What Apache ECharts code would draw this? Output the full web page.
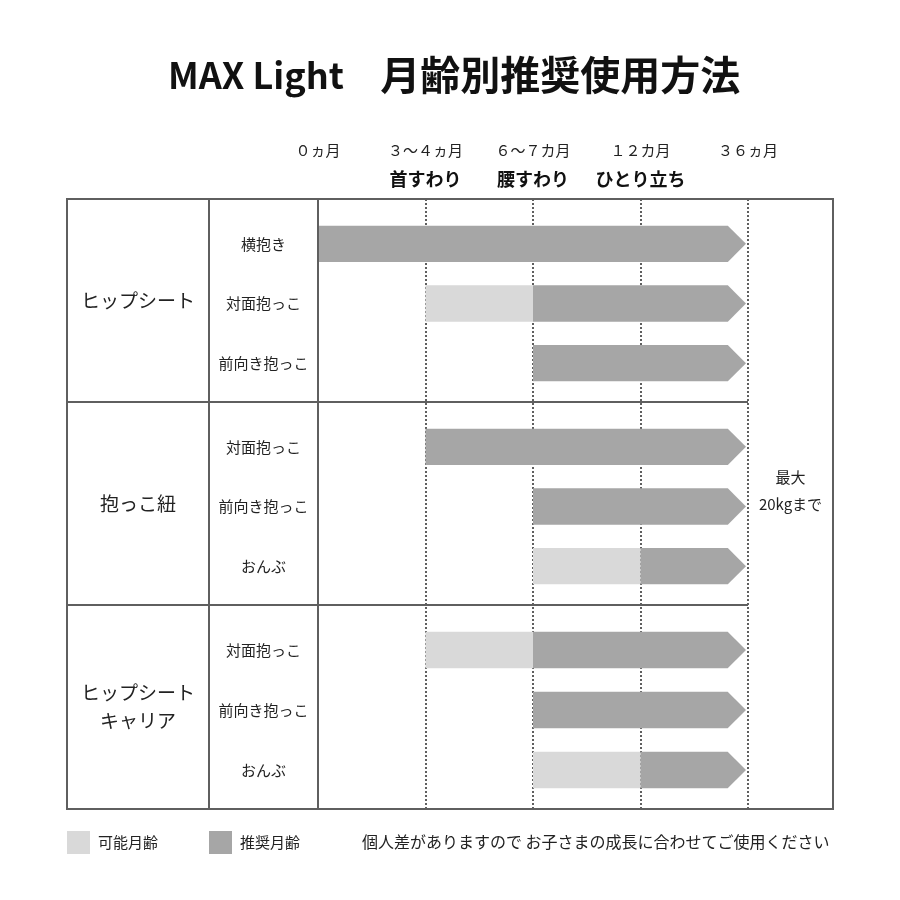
<!DOCTYPE html>
<html>
<head>
<meta charset="utf-8">
<script src="https://cdn.jsdelivr.net/npm/echarts@6/dist/echarts.min.js"></script>
<style>
  html, body { margin: 0; padding: 0; background: #fff; }
  #main { width: 900px; height: 900px; }
</style>
</head>
<body>
<div id="main"></div>
<script>
// milestone ticks along the top (index 0..4)
var milestones = ['０ヵ月', '３〜４ヵ月', '６〜７カ月', '１２カ月', '３６ヵ月'];
var stages = ['', '首すわり', '腰すわり', 'ひとり立ち', ''];

var groups = ['ヒップシート', '抱っこ紐', 'ヒップシート\nキャリア'];
var rowNames = [
    ['横抱き', '対面抱っこ', '前向き抱っこ'],
    ['対面抱っこ', '前向き抱っこ', 'おんぶ'],
    ['対面抱っこ', '前向き抱っこ', 'おんぶ']
];

// [row, from milestone, to milestone]
var possible = [
    [[1, 1, 2]],
    [[2, 2, 3]],
    [[0, 1, 2], [2, 2, 3]]
];
var recommended = [
    [[0, 0, 4], [1, 2, 4], [2, 2, 4]],
    [[0, 1, 4], [1, 2, 4], [2, 3, 4]],
    [[0, 2, 4], [1, 2, 4], [2, 3, 4]]
];

var noteText = '個人差がありますので お子さまの成長に合わせてご使用ください';
var limitText = '最大\n20kgまで';

/**
 * layout
 */
var FONT = '"Noto Sans CJK JP", "Noto Sans", sans-serif';
var LIGHT = '#d9d9d9';
var DARK = '#a6a6a6';
var LINE = '#5f5f5f';
var tableL = 67, tableR = 833, tableT = 199, tableB = 809;
var col1 = 209, col2 = 318, timeR = 748;
var groupEdges = [199, 402, 605, 809];

var chart = echarts.init(document.getElementById('main'));

function barRenderer(arrow) {
    return function (params, api) {
        var row = api.value(0);
        var p0 = api.coord([api.value(1), row]);
        var p1 = api.coord([api.value(2), row]);
        var h = api.size([0, 1])[1] * 0.61;
        var y = p0[1];
        var x0 = p0[0];
        var x1 = p1[0];
        var pts;
        if (arrow) {
            x1 = x1 - 2;
            var tip = h / 2;
            pts = [[x0, y - h / 2], [x1 - tip, y - h / 2], [x1, y], [x1 - tip, y + h / 2], [x0, y + h / 2]];
        } else {
            pts = [[x0, y - h / 2], [x1, y - h / 2], [x1, y + h / 2], [x0, y + h / 2]];
        }
        return {
            type: 'polygon',
            shape: { points: pts },
            style: { fill: api.visual('color') }
        };
    };
}

var grids = [{ left: col2, width: timeR - col2, top: tableT, height: tableB - tableT }];
var xAxes = [{
    gridIndex: 0, type: 'value', min: 0, max: 4, interval: 1, position: 'top',
    axisLine: { show: false }, axisTick: { show: false },
    splitLine: { show: true, lineStyle: { color: LINE, width: 2, type: 'dotted' } },
    axisLabel: {
        margin: 8,
        formatter: function (v) {
            return '{a|' + milestones[v] + '}\n{b|' + (stages[v] || '\u3000') + '}';
        },
        rich: {
            a: { fontSize: 15, color: '#222', fontFamily: FONT, lineHeight: 34 },
            b: { fontSize: 18, fontWeight: 'bold', color: '#111', fontFamily: FONT, lineHeight: 24 }
        }
    }
}];
var yAxes = [{ gridIndex: 0, type: 'value', show: false }];
var series = [];
var graphics = [];

for (var g = 0; g < groups.length; g++) {
    var gi = g + 1;
    grids.push({
        left: col2, width: timeR - col2,
        top: groupEdges[g] + 15, height: groupEdges[g + 1] - groupEdges[g] - 24
    });
    xAxes.push({ gridIndex: gi, type: 'value', min: 0, max: 4, show: false });
    yAxes.push({
        gridIndex: gi, type: 'category', data: rowNames[g], inverse: true,
        axisLine: { show: false }, axisTick: { show: false }, splitLine: { show: false },
        axisLabel: { margin: (col2 - col1) / 2, align: 'center', fontSize: 15, color: '#222', fontFamily: FONT }
    });
    series.push({
        name: '可能月齢', type: 'custom', xAxisIndex: gi, yAxisIndex: gi,
        itemStyle: { color: LIGHT },
        renderItem: barRenderer(false),
        encode: { x: [1, 2], y: 0 },
        data: possible[g]
    });
    series.push({
        name: '推奨月齢', type: 'custom', xAxisIndex: gi, yAxisIndex: gi,
        itemStyle: { color: DARK },
        renderItem: barRenderer(true),
        encode: { x: [1, 2], y: 0 },
        data: recommended[g]
    });
    graphics.push({
        type: 'text', x: (tableL + col1) / 2, y: (groupEdges[g] + groupEdges[g + 1]) / 2,
        style: {
            text: groups[g], fontSize: 19, lineHeight: 28, fill: '#222', fontFamily: FONT,
            textAlign: 'center', align: 'center', textVerticalAlign: 'middle', verticalAlign: 'middle'
        }
    });
}

/**
 * table lines
 */
var lineStyle = { stroke: LINE, lineWidth: 2 };
graphics.push({ type: 'rect', shape: { x: tableL, y: tableT, width: tableR - tableL, height: tableB - tableT }, style: { stroke: LINE, lineWidth: 2, fill: null }, z: 10 });
graphics.push({ type: 'line', shape: { x1: col1, y1: tableT, x2: col1, y2: tableB }, style: lineStyle, z: 10 });
graphics.push({ type: 'line', shape: { x1: col2, y1: tableT, x2: col2, y2: tableB }, style: lineStyle, z: 10 });
graphics.push({ type: 'line', shape: { x1: tableL, y1: groupEdges[1], x2: timeR, y2: groupEdges[1] }, style: lineStyle, z: 10 });
graphics.push({ type: 'line', shape: { x1: tableL, y1: groupEdges[2], x2: timeR, y2: groupEdges[2] }, style: lineStyle, z: 10 });

graphics.push({
    type: 'text', x: (timeR + tableR) / 2, y: 491,
    style: {
        text: limitText, fontSize: 15, lineHeight: 27, fill: '#222', fontFamily: FONT,
        textAlign: 'center', align: 'center', textVerticalAlign: 'middle', verticalAlign: 'middle'
    }
});
graphics.push({
    type: 'text', x: 362, y: 842,
    style: {
        text: noteText, fontSize: 16, fill: '#222', fontFamily: FONT,
        textVerticalAlign: 'middle', verticalAlign: 'middle'
    }
});

var option = {
    backgroundColor: '#ffffff',
    animation: false,
    textStyle: { fontFamily: FONT },
    title: {
        text: '{l|MAX Light}    {c|月齢別推奨使用方法}',
        left: 168,
        top: 55,
        padding: 0,
        textStyle: {
            fontSize: 40, fontWeight: 'bold', color: '#111', fontFamily: FONT,
            rich: {
                l: { fontSize: 36, fontWeight: 'bold', color: '#111', fontFamily: FONT },
                c: { fontSize: 40, fontWeight: 'bold', color: '#111', fontFamily: FONT }
            }
        }
    },
    legend: {
        left: tableL, top: 831, padding: 0,
        icon: 'rect', itemWidth: 23, itemHeight: 23, itemGap: 51,
        data: ['可能月齢', '推奨月齢'],
        selectedMode: false,
        textStyle: { fontSize: 15, color: '#222', fontFamily: FONT, padding: [0, 0, 0, 3] }
    },
    grid: grids,
    xAxis: xAxes,
    yAxis: yAxes,
    series: series,
    graphic: graphics
};
chart.setOption(option);
</script>
</body>
</html>
